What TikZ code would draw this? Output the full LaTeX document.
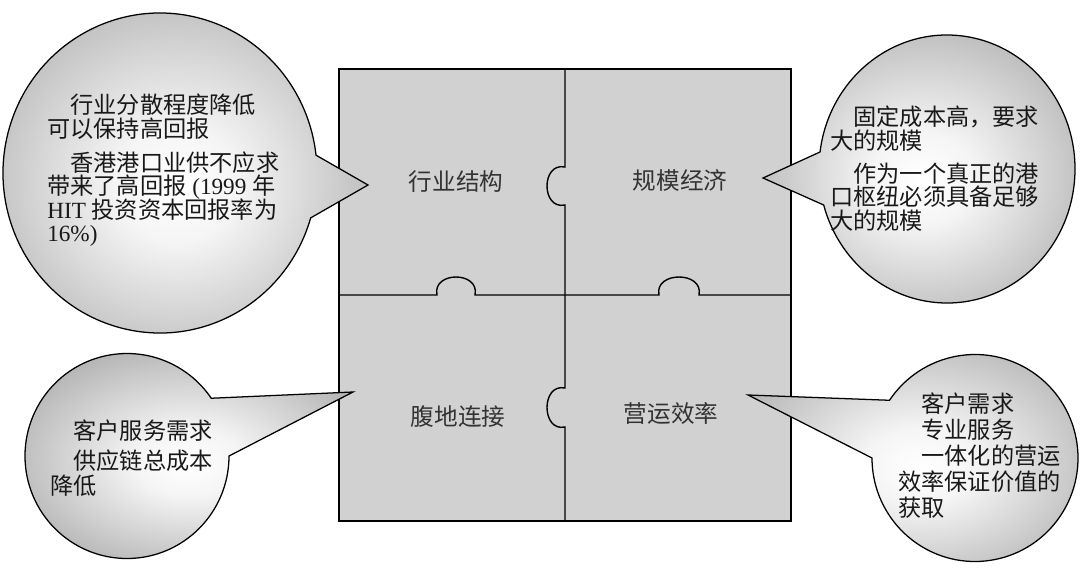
\documentclass[tikz,border=0pt]{standalone}
\usepackage{fontspec}
\setmainfont{Liberation Serif}
\newfontfamily\cjk{Noto Sans CJK SC}
\newfontfamily\latinf{Liberation Serif}
\usetikzlibrary{calc}
\pgfdeclareradialshading{bubbleshade}{\pgfpoint{0bp}{-2bp}}{color(0bp)=(white); color(8bp)=(white!96!black); color(32bp)=(black!33); color(50bp)=(black!33)}
\begin{document}
\begin{tikzpicture}[x=0.025cm, y=-0.025cm,
    piece/.style={font=\cjk\fontsize{16.8}{20}\selectfont, text=black!80, inner sep=0pt},
    bubble/.style={draw=black, line width=0.9pt, shade, shading=bubbleshade},
    note/.style={anchor=north west, align=left, inner sep=0pt, text=black!90,
        font={\cjk\fontsize{16.5}{#1}\selectfont\lineskiplimit=-100pt}}]
    \useasboundingbox (0,0) rectangle (1080,579);

    % puzzle
    \filldraw[fill=black!18, line width=1pt] (339,69) rectangle (791,521);
    \draw[line width=1pt] (565,69) -- (565,167) .. controls (541,162) and (541,210) .. (565,205)
        -- (565,388) .. controls (541,383) and (541,432) .. (565,427) -- (565,521);
    \draw[line width=1pt] (339,295) -- (437,295) .. controls (432,271) and (480,271) .. (475,295)
        -- (659,295) .. controls (654,271) and (704,271) .. (699,295) -- (791,295);

    \node[piece] (industry) at (456,182) {行业结构};
    \node[piece] (scale) at (680,180) {规模经济};
    \node[piece] (hinterland) at (458,417) {腹地连接};
    \node[piece] (operation) at (671,413) {营运效率};

    % bubbles
    \coordinate (c1) at (160,173);
    \coordinate (tip1) at (368,185);
    \coordinate (c2) at (947,169);
    \coordinate (tip2) at (763,178);
    \coordinate (c3) at (127,456);
    \coordinate (tip3) at (353,392);
    \coordinate (c4) at (975,458);
    \coordinate (tip4) at (748,395);

    \draw[bubble] ($(c1)+(16.3:157 and 160)$) arc[start angle=16.3, end angle=353.6, x radius=157, y radius=160] -- (tip1) -- cycle;
    \draw[bubble] ($(c2)+(187.3:128 and 134)$) arc[start angle=187.3, end angle=524.4, x radius=128, y radius=134] -- (tip2) -- cycle;
    \draw[bubble] ($(c3)+(0:102 and 102.5)$) arc[start angle=0, end angle=325.7, x radius=102, y radius=102.5] -- (tip3) -- cycle;
    \draw[bubble] ($(c4)+(213.9:103 and 103.5)$) arc[start angle=213.9, end angle=540, x radius=103, y radius=103.5] -- (tip4) -- cycle;

    \node[note=16.7pt] (note1) at (47,94) {\hspace*{1em}行业分散程度降低\\
        可以保持高回报\\[7.5pt]
        \hspace*{1em}香港港口业供不应求\\
        带来了高回报{\latinf\ (1999 }年\\
        {\latinf HIT }投资资本回报率为\\
        {\latinf 16\%)}};
    \node[note=16.7pt] (note2) at (830,106) {\hspace*{1em}固定成本高，要求\\
        大的规模\\[6.8pt]
        \hspace*{1em}作为一个真正的港\\
        口枢纽必须具备足够\\
        大的规模};
    \node[note=17.8pt] (note3) at (50,419.5) {\hspace*{1em}客户服务需求\\[3.6pt]
        \hspace*{1em}供应链总成本\\
        降低};
    \node[note=18.5pt] (note4) at (898,392.5) {\hspace*{1em}客户需求\\
        \hspace*{1em}专业服务\\
        \hspace*{1em}一体化的营运\\
        效率保证价值的\\
        获取};
\end{tikzpicture}
\end{document}
